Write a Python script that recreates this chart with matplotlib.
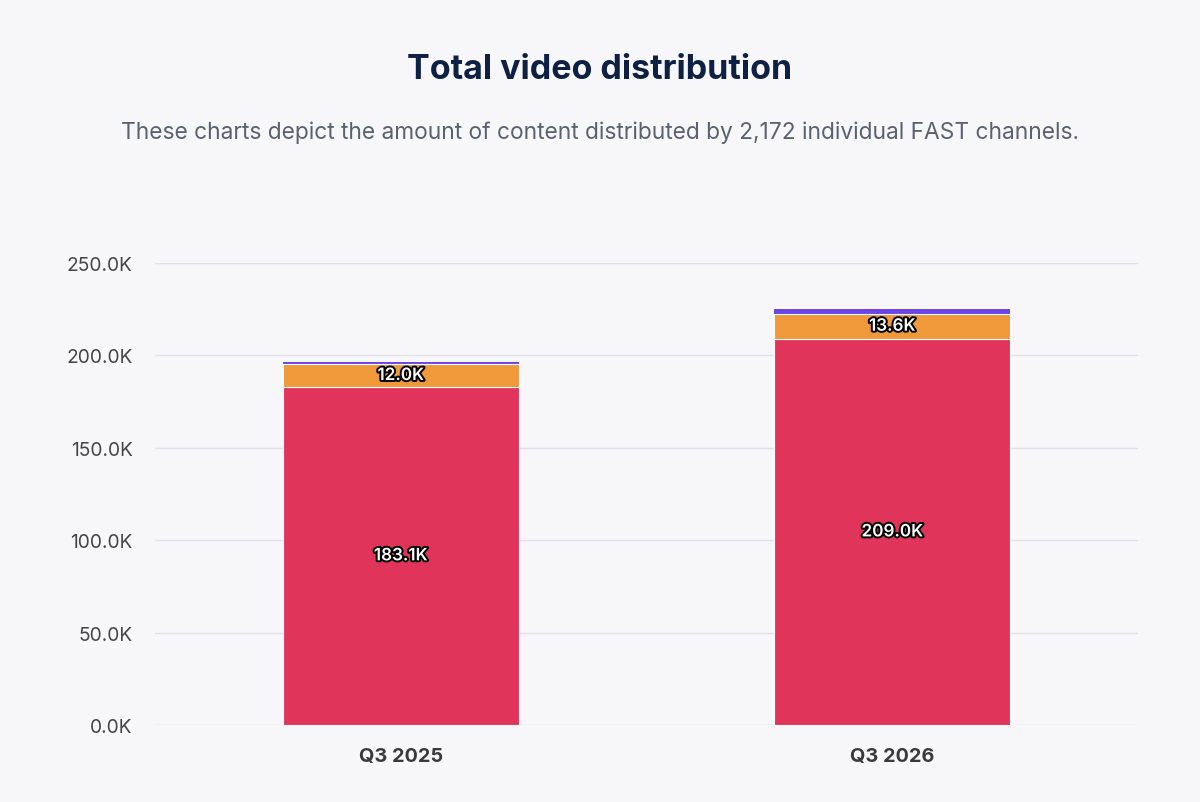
import matplotlib
matplotlib.use("Agg")
import matplotlib.pyplot as plt
import matplotlib.patheffects as pe
import numpy as np

categories = ["Q3 2025", "Q3 2026"]
series_names = ["Main", "Secondary", "Other"]
main_vals = [183.1, 209.0]
secondary_vals = [12.0, 13.6]
other_vals = [1.5, 2.5]
colors = ["#e0345a", "#f0993b", "#6c45e4"]
yticks = [0, 50, 100, 150, 200, 250]

plt.rcParams['font.family'] = ['Inter', 'DejaVu Sans']
bg = "#f7f7f9"
fig = plt.figure(figsize=(12, 8.03), dpi=100, facecolor=bg)
ax = fig.add_axes([155/1200, 77/803, (1138-155)/1200, (726-264)/803])
ax.set_facecolor(bg)

x = np.arange(len(categories))
w = 0.48
bottom = np.zeros(len(categories))
for vals, col, lab in zip([main_vals, secondary_vals, other_vals], colors, series_names):
    v = np.array(vals)
    if lab == "Other":
        ax.bar(x, v, w, bottom=bottom, color=col, linewidth=0, zorder=2.5)
    else:
        ax.bar(x, v, w, bottom=bottom, color=col, edgecolor="white", linewidth=0.8, zorder=3)
        for xi, b, vi in zip(x, bottom, v):
            ax.text(xi, b + vi/2, f"{vi:.1f}K", ha="center", va="center", color="white",
                    fontsize=12.3, fontweight="semibold", zorder=5,
                    path_effects=[pe.withStroke(linewidth=2.8, foreground="black")])
    bottom += v

ax.set_xlim(-0.5, 1.5)
ax.set_ylim(0, 250)
ax.set_yticks(yticks)
ax.set_yticklabels([f"{t:.1f}K" for t in yticks], fontsize=13.8, color="#454545")
ax.set_xticks(x)
ax.set_xticklabels(categories, fontsize=14.3, fontweight="bold", color="#3a3a3a")
ax.tick_params(axis="both", length=0)
ax.tick_params(axis="y", pad=16)
ax.tick_params(axis="x", pad=16)
ax.grid(axis="y", color="#e2e2e6", linewidth=1, zorder=0)
for s in ax.spines.values():
    s.set_visible(False)

fig.text(0.5, 1 - 70/803, "Total video distribution", ha="center", va="center",
         fontsize=24.5, fontweight="bold", color="#0e2145")
fig.text(0.5, 1 - 133/803, "These charts depict the amount of content distributed by 2,172 individual FAST channels.",
         ha="center", va="center", fontsize=16.4, color="#5a6272")

fig.savefig("out.png", dpi=100, facecolor=bg)
